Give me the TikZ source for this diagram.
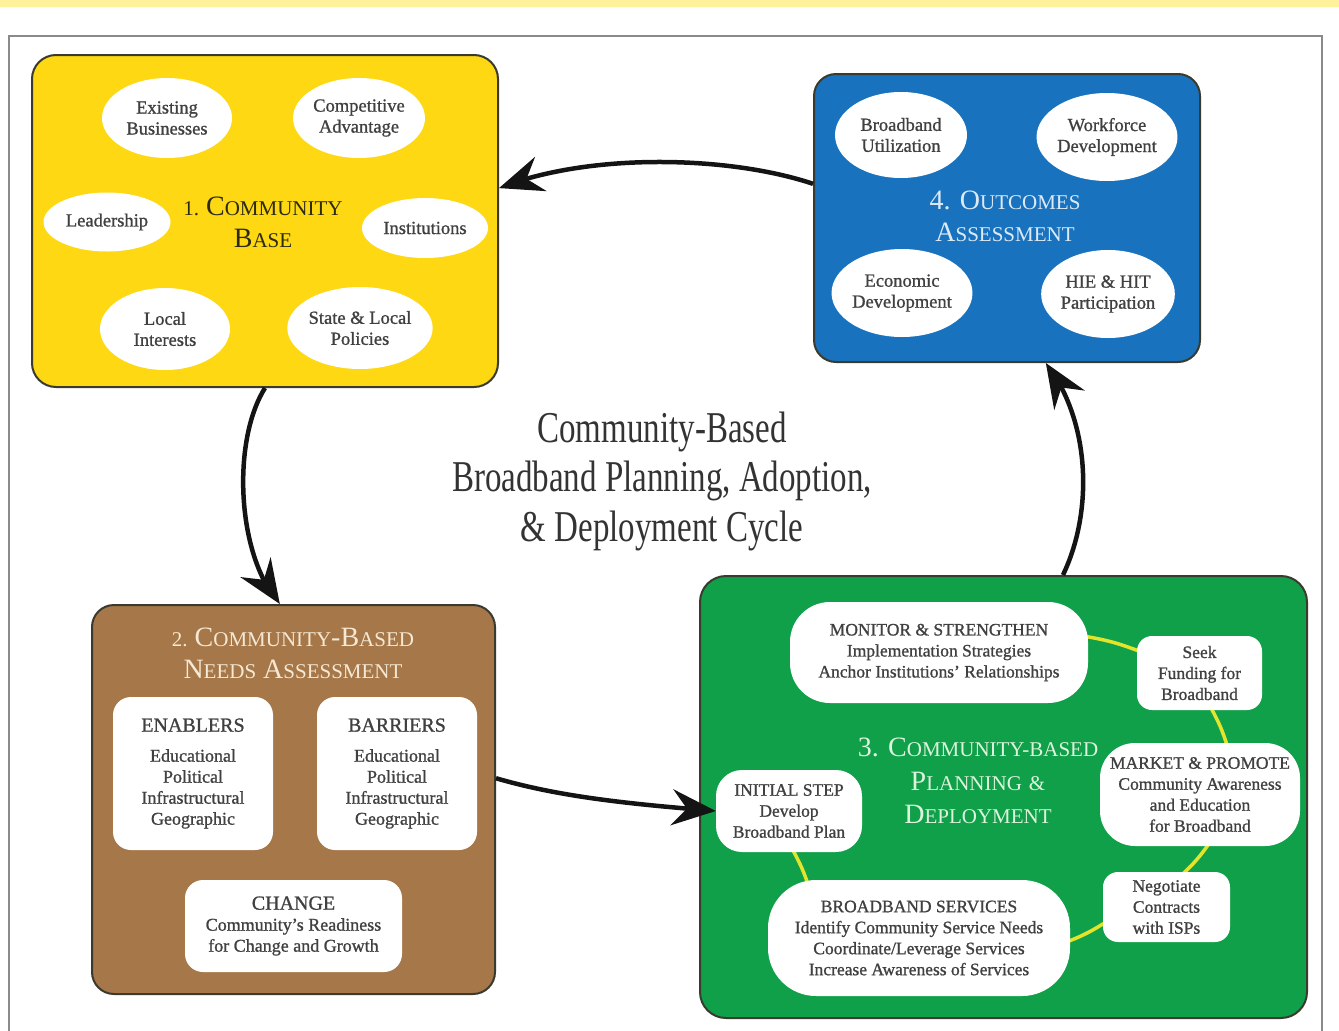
\documentclass[tikz,border=0pt]{standalone}
\usepackage{fontspec}
\setmainfont{Liberation Serif}
\newfontfamily\condfont{Liberation Serif}[FakeStretch=0.75]
\newfontfamily\bodyfont{Liberation Serif}[FakeBold=1.0]
\usetikzlibrary{arrows.meta,shapes.geometric,bending,calc}
\definecolor{topband}{HTML}{FFF29B}
\definecolor{framec}{HTML}{8A8A8A}
\definecolor{cbyellow}{HTML}{FDD813}
\definecolor{cbblue}{HTML}{1872BE}
\definecolor{cbbrown}{HTML}{A57749}
\definecolor{cbgreen}{HTML}{0FA049}
\definecolor{txt}{HTML}{404040}
\definecolor{titletxt}{HTML}{333333}
\definecolor{yellowtxt}{HTML}{2D2A12}
\definecolor{bluetxt}{HTML}{DCEAF6}
\definecolor{browntxt}{HTML}{F6E8D2}
\definecolor{greentxt}{HTML}{DDF3DD}
\definecolor{ylink}{HTML}{E4E42C}
\definecolor{edgec}{HTML}{3A3A2E}
\newcommand\smc[1]{{\fontsize{21}{32}\selectfont #1}}
\pgfdeclarelayer{back}
\pgfdeclarelayer{mid}
\pgfsetlayers{back,mid,main}
\begin{document}
\begin{tikzpicture}[x=1pt,y=-1pt,
  panel/.style={draw=edgec, line width=2pt, rounded corners=24pt, inner sep=0pt},
  bubble/.style={ellipse, fill=white, inner sep=0pt, align=center, text=txt,
    font=\bodyfont\fontsize{18.5}{21}\selectfont},
  card/.style={rectangle, fill=white, inner sep=0pt, align=center, text=txt,
    font=\bodyfont\fontsize{18}{21}\selectfont},
  gcard/.style={card, font=\bodyfont\fontsize{17.5}{21}\selectfont},
  boxtitle/.style={align=center, font=\fontsize{28}{32}\selectfont},
  bigarrow/.style={line width=4.5pt, draw=black!92,
    -{Stealth[length=44pt,width=36pt,inset=15pt]}},
  ylinkst/.style={draw=ylink, line width=3.5pt, shorten <=-10pt, shorten >=-10pt}
]
\useasboundingbox (0,0) rectangle (1339,1031);
\begin{pgfonlayer}{back}
\fill[topband] (0,0) rectangle (1339,7);
\draw[framec, line width=2.5pt] (9,36) rectangle (1322,1060);
\node[panel, fill=cbyellow, minimum width=466pt, minimum height=332pt] (b1) at (265,221) {};
\node[panel, fill=cbblue, minimum width=386pt, minimum height=288pt, rounded corners=22pt] (b4) at (1007,218) {};
\node[panel, fill=cbbrown, minimum width=403pt, minimum height=389pt, rounded corners=22pt] (b2) at (293.5,799.5) {};
\node[panel, fill=cbgreen, minimum width=607pt, minimum height=442pt, rounded corners=26pt] (b3) at (1003.5,797) {};
\end{pgfonlayer}

% Box 1
\node[boxtitle, text=yellowtxt] (t1) at (263,222) {\smc{1. }C\smc{OMMUNITY}\\B\smc{ASE}};
\node[bubble, minimum width=130pt, minimum height=80pt] (e1) at (167,118) {Existing\\Businesses};
\node[bubble, minimum width=132pt, minimum height=80pt] (e2) at (359,118) {Competitive\\Advantage};
\node[bubble, minimum width=127pt, minimum height=59pt] (e3) at (107,222) {Leadership};
\node[bubble, minimum width=126pt, minimum height=60pt] (e4) at (425,228) {Institutions};
\node[bubble, minimum width=130pt, minimum height=82pt] (e5) at (165,329) {Local\\Interests};
\node[bubble, minimum width=134pt, minimum height=82pt] (e6) at (360,328) {State \& Local\\Policies};

% Box 4
\node[boxtitle, text=bluetxt] (t4) at (1005,216) {4. O\smc{UTCOMES}\\A\smc{SSESSMENT}};
\node[bubble, minimum width=132pt, minimum height=86pt] (o1) at (901,135) {Broadband\\Utilization};
\node[bubble, minimum width=130pt, minimum height=88pt] (o2) at (1107,137) {Workforce\\Development};
\node[bubble, minimum width=130pt, minimum height=88pt] (o3) at (902,293) {Economic\\Development};
\node[bubble, minimum width=127pt, minimum height=88pt] (o4) at (1108,294) {HIE \& HIT\\Participation};

% Box 2
\node[boxtitle, text=browntxt] (t2) at (293,653) {\smc{2. }C\smc{OMMUNITY}-B\smc{ASED}\\N\smc{EEDS} A\smc{SSESSMENT}};
\node[card, rounded corners=18pt, minimum width=160pt, minimum height=153pt] (en) at (193,773.5)
  {{\fontsize{20}{21}\selectfont ENABLERS}\\[9pt]Educational\\Political\\Infrastructural\\Geographic};
\node[card, rounded corners=18pt, minimum width=160pt, minimum height=153pt] (ba) at (397,773.5)
  {{\fontsize{20}{21}\selectfont BARRIERS}\\[9pt]Educational\\Political\\Infrastructural\\Geographic};
\node[card, rounded corners=18pt, minimum width=217pt, minimum height=92pt] (ch) at (293.5,926)
  {{\fontsize{20}{21}\selectfont CHANGE}\\Community’s Readiness\\for Change and Growth};

% Box 3
\node[boxtitle, text=greentxt, font=\fontsize{28}{33.5}\selectfont] (t3) at (978,781)
  {3. C\smc{OMMUNITY-BASED}\\P\smc{LANNING} \smc{\&}\\D\smc{EPLOYMENT}};
\node[gcard, rounded corners=40pt, minimum width=298pt, minimum height=101pt] (mon) at (939,652.5)
  {MONITOR \& STRENGTHEN\\Implementation Strategies\\Anchor Institutions’ Relationships};
\node[gcard, rounded corners=15pt, minimum width=125pt, minimum height=74pt] (seek) at (1199.5,673)
  {Seek\\Funding for\\Broadband};
\node[gcard, rounded corners=35pt, minimum width=200pt, minimum height=103pt] (mkt) at (1200,794.5)
  {MARKET \& PROMOTE\\Community Awareness\\and Education\\for Broadband};
\node[gcard, rounded corners=26pt, minimum width=146pt, minimum height=82pt] (init) at (789,811)
  {INITIAL STEP\\Develop\\Broadband Plan};
\node[gcard, rounded corners=48pt, minimum width=302pt, minimum height=116pt] (serv) at (919,938)
  {BROADBAND SERVICES\\Identify Community Service Needs\\Coordinate/Leverage Services\\Increase Awareness of Services};
\node[gcard, rounded corners=15pt, minimum width=127pt, minimum height=70pt] (neg) at (1166.5,907)
  {Negotiate\\Contracts\\with ISPs};
\coordinate (servin) at ($(serv.center)+(-110,-50)$);

\begin{pgfonlayer}{mid}
\draw[ylinkst] (mon.6) to[bend left=6] (seek.160);
\draw[ylinkst] (seek.-71) to[bend left=6] (mkt.63);
\draw[ylinkst] (mkt.-82) to[bend left=6] (neg.62);
\draw[ylinkst] (neg.195) to[bend left=6] (serv.-1);
\draw[ylinkst, shorten <=0pt] (servin) to[bend right=6] (init.-83);
\end{pgfonlayer}

% Centre title
\node[align=center, text=titletxt, font=\condfont\fontsize{44}{49.5}\selectfont] (title) at (662,481)
  {Community-Based\\Broadband Planning, Adoption,\\\& Deployment Cycle};

% Cycle arrows
\draw[bigarrow] (b4.170) .. controls (730,156) and (590,152) .. (b1.8);
\draw[bigarrow] (b1.south) .. controls (232,440) and (236,555) .. (b2.94);
\draw[bigarrow] (b2.6) .. controls (560,797) and (630,804) .. (init.west);
\draw[bigarrow] (b3.75) .. controls (1094,510) and (1090,420) .. (b4.-75);
\end{tikzpicture}
\end{document}
